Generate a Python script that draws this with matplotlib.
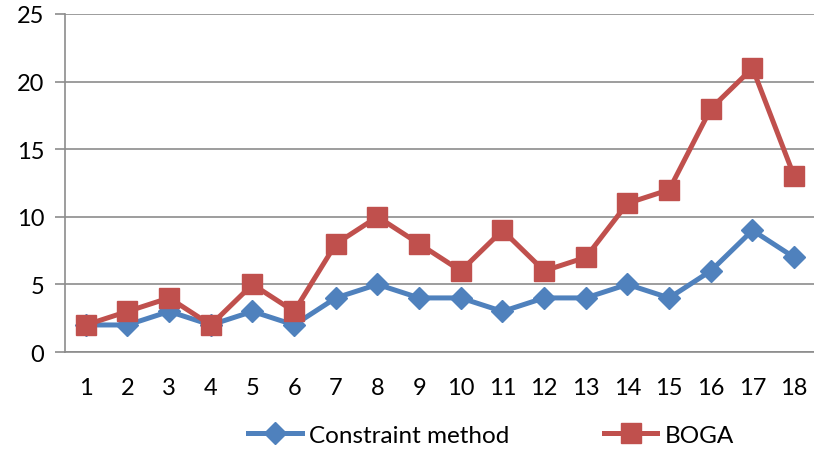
import numpy as np
import matplotlib.pyplot as plt

# data
runs = list(range(1, 19))
constraint = [2, 2, 3, 2, 3, 2, 4, 5, 4, 4, 3, 4, 4, 5, 4, 6, 9, 7]
boga = [2, 3, 4, 2, 5, 3, 8, 10, 8, 6, 9, 6, 7, 11, 12, 18, 21, 13]

plt.rcParams['font.family'] = ['Lato', 'DejaVu Sans']

fig = plt.figure(figsize=(8.14, 4.52), dpi=100)
ax = fig.add_axes([65 / 814, 1 - 353 / 452, 750 / 814, 338 / 452])

ax.plot(runs, constraint, color='#4F81BD', lw=3.6, marker='D', ms=11,
        label='Constraint method', zorder=3)
ax.plot(runs, boga, color='#C0504D', lw=3.6, marker='s', ms=14,
        label='BOGA', zorder=4)

ax.set_xlim(0.5, 18.5)
ax.set_ylim(0, 25)
ax.set_xticks(runs)
ax.set_yticks(np.arange(0, 26, 5))
ax.yaxis.grid(True, color='#8c8c8c', lw=1.2)
ax.set_axisbelow(True)
for s in ['top', 'right']:
    ax.spines[s].set_visible(False)
ax.spines['left'].set_color('#8c8c8c')
ax.spines['left'].set_linewidth(1.2)
ax.spines['bottom'].set_color('#8c8c8c')
ax.spines['bottom'].set_linewidth(1.2)
ax.tick_params(axis='y', length=7, color='#8c8c8c', width=1.2, labelsize=17, pad=8)
ax.tick_params(axis='x', length=0, labelsize=17, pad=18)

fig.legend(loc='center', bbox_to_anchor=(491 / 814, 1 - 436 / 452), ncol=2,
           frameon=False, fontsize=17.5, handlelength=2.2, columnspacing=3.9,
           handletextpad=0.3, borderaxespad=0)

fig.savefig('out.png', dpi=100)
